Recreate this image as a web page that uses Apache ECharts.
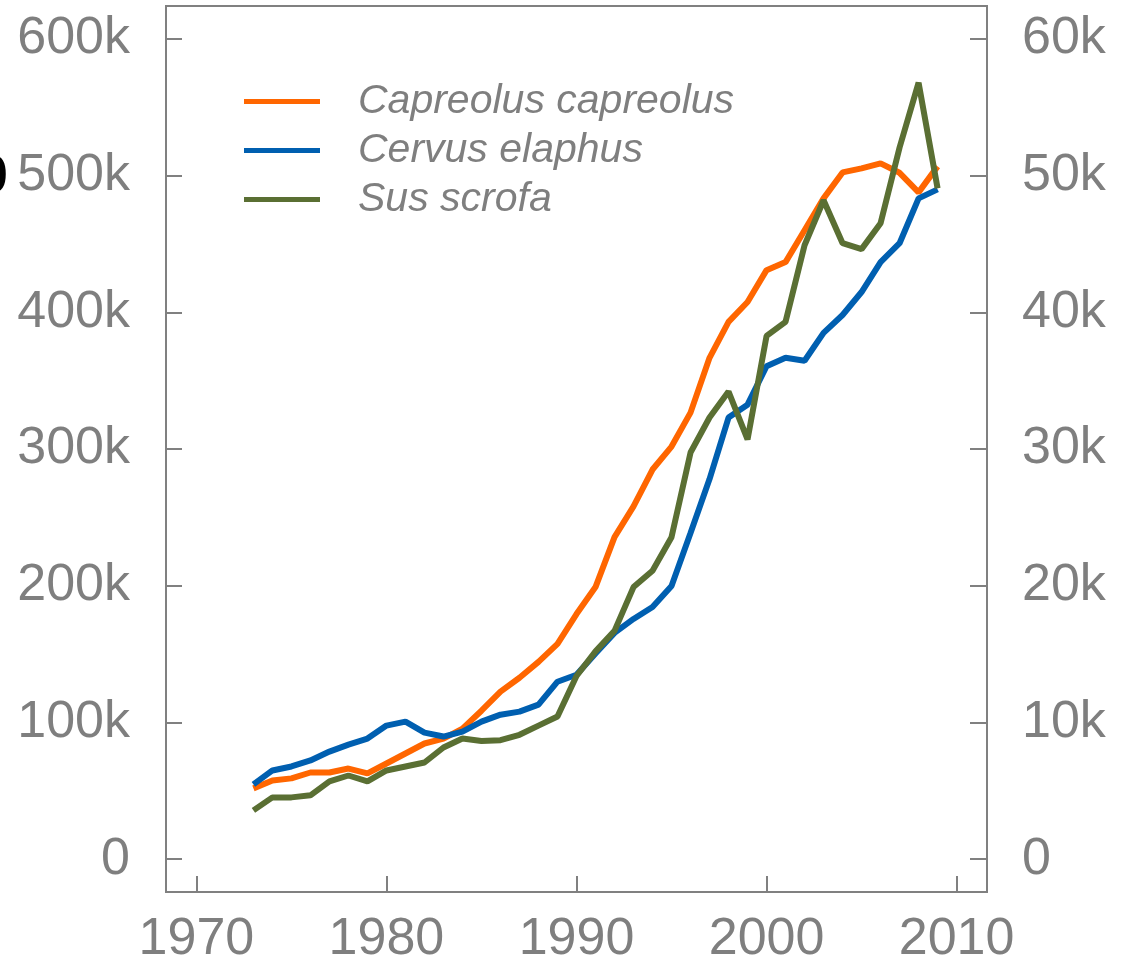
<!DOCTYPE html>
<html>
<head>
<meta charset="utf-8">
<script src="https://cdn.jsdelivr.net/npm/echarts@6/dist/echarts.min.js"></script>
<style>
html, body { margin: 0; padding: 0; background: #fff; }
#mainChart { width: 1124px; height: 966px; }
</style>
</head>
<body>
<div id="mainChart"></div>
<script>
// years of the hunting bag records
var years = [1973, 1974, 1975, 1976, 1977, 1978, 1979, 1980, 1981, 1982, 1983, 1984, 1985,
    1986, 1987, 1988, 1989, 1990, 1991, 1992, 1993, 1994, 1995, 1996, 1997, 1998, 1999,
    2000, 2001, 2002, 2003, 2004, 2005, 2006, 2007, 2008, 2009]

// Capreolus capreolus, left axis
var roeDeer = [51800, 57600, 59100, 63400, 63400, 66300, 62700, 70000, 77300, 84600, 88200,
    95500, 108600, 122500, 132700, 144300, 157500, 179300, 199000, 235500, 258000, 285000,
    301800, 326600, 366700, 393000, 407500, 430800, 436700, 460000, 483300, 502300, 505200,
    508900, 502000, 487700, 506700]

// Cervus elaphus, right axis
var redDeer = [5470, 6490, 6780, 7220, 7870, 8380, 8820, 9770, 10060, 9260, 8970, 9330,
    10060, 10570, 10790, 11300, 12980, 13490, 15050, 16550, 17570, 18440, 19980, 23850,
    27800, 32300, 33240, 36050, 36670, 36450, 38490, 39800, 41480, 43670, 45050, 48330, 48990]

// Sus scrofa, left axis
var wildBoar = [35700, 45200, 45200, 46700, 56900, 61200, 56900, 64900, 67800, 70700, 81700,
    88200, 86500, 87000, 91000, 97700, 104300, 134000, 152000, 167000, 199000, 211000,
    235500, 297400, 323000, 342000, 307000, 382700, 393000, 449000, 481900, 450500, 446200,
    465100, 520500, 567900, 490600]

var xTicks = [1970, 1980, 1990, 2000, 2010]
var leftTicks = [0, 100000, 200000, 300000, 400000, 500000, 600000]
var rightTicks = [0, 10000, 20000, 30000, 40000, 50000, 60000]

var seriesNames = ['Capreolus capreolus', 'Cervus elaphus', 'Sus scrofa']
var seriesColors = ['#ff6600', '#005fb0', '#5a6f33']

function pairs(values){
    return years.map(function(y, i){ return [y, values[i]] })
}

function kLabel(v){
    return v === 0 ? '0' : (v / 1000) + 'k'
}

var grey = '#7f7f7f'
var labelFont = {
    color: grey,
    fontFamily: 'Liberation Sans, Arial, sans-serif',
    fontSize: 52
}

echarts.init(document.getElementById('mainChart')).setOption({
    animation: false,
    grid: {
        left: 166,
        right: 137,
        top: 6,
        bottom: 73,
        show: true,
        borderColor: '#808080',
        borderWidth: 2,
        backgroundColor: 'transparent'
    },
    // cut-off glyph of the neighbouring panel on the left edge
    graphic: [
        {
            type: 'text',
            x: -21,
            y: 152,
            z: 100,
            style: {
                text: '0',
                fill: '#000',
                font: 'bold 52px Liberation Sans, Arial, sans-serif'
            }
        }
    ],
    legend: {
        orient: 'vertical',
        left: 244,
        top: 77,
        padding: 0,
        itemWidth: 76,
        itemHeight: 5,
        itemGap: 0,
        icon: 'rect',
        data: seriesNames,
        textStyle: {
            color: grey,
            fontStyle: 'italic',
            fontFamily: 'Liberation Sans, Arial, sans-serif',
            fontSize: 41,
            lineHeight: 49,
            padding: [0, 0, 0, 33]
        }
    },
    xAxis: {
        type: 'value',
        min: 1968.4,
        max: 2011.6,
        axisLine: { show: false, onZero: false },
        splitLine: { show: false },
        axisTick: {
            show: true,
            inside: true,
            length: 16,
            customValues: xTicks,
            lineStyle: { color: '#808080', width: 2 }
        },
        axisLabel: Object.assign({
            margin: 22,
            customValues: xTicks,
            formatter: function(v){ return String(v) }
        }, labelFont)
    },
    yAxis: [
        {
            type: 'value',
            min: -24000,
            max: 624000,
            axisLine: { show: false, onZero: false },
            splitLine: { show: false },
            axisTick: {
                show: true,
                inside: true,
                length: 16,
                customValues: leftTicks,
                lineStyle: { color: '#808080', width: 2 }
            },
            axisLabel: Object.assign({
                margin: 36,
                customValues: leftTicks,
                formatter: kLabel
            }, labelFont)
        },
        {
            type: 'value',
            position: 'right',
            min: -2400,
            max: 62400,
            axisLine: { show: false, onZero: false },
            splitLine: { show: false },
            axisTick: {
                show: true,
                inside: true,
                length: 17,
                customValues: rightTicks,
                lineStyle: { color: '#808080', width: 2 }
            },
            axisLabel: Object.assign({
                margin: 35,
                customValues: rightTicks,
                formatter: kLabel
            }, labelFont)
        }
    ],
    series: [
        {
            name: seriesNames[0],
            type: 'line',
            yAxisIndex: 0,
            showSymbol: false,
            data: pairs(roeDeer),
            itemStyle: { color: seriesColors[0] },
            lineStyle: { color: seriesColors[0], width: 6 }
        },
        {
            name: seriesNames[1],
            type: 'line',
            yAxisIndex: 1,
            showSymbol: false,
            data: pairs(redDeer),
            itemStyle: { color: seriesColors[1] },
            lineStyle: { color: seriesColors[1], width: 6 }
        },
        {
            name: seriesNames[2],
            type: 'line',
            yAxisIndex: 0,
            showSymbol: false,
            data: pairs(wildBoar),
            itemStyle: { color: seriesColors[2] },
            lineStyle: { color: seriesColors[2], width: 6 }
        }
    ]
})
</script>
</body>
</html>
